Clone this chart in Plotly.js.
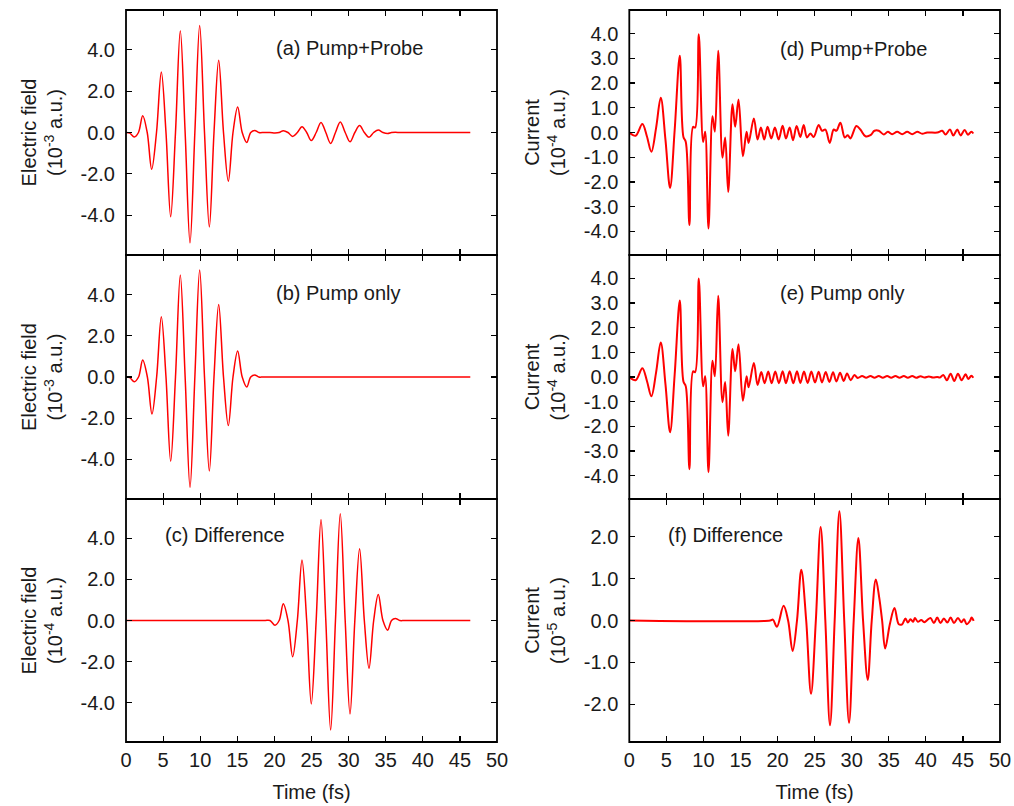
<!DOCTYPE html>
<html>
<head>
<meta charset="utf-8">
<script src="https://cdn.plot.ly/plotly-3.0.1.min.js"></script>
<style>
  html, body { margin: 0; padding: 0; background: #fff; }
  #chart { width: 1014px; height: 806px; }
</style>
</head>
<body>
<div id="chart"></div>
<script>
// ---------- Data ----------
// (a) Pump+Probe electric field, 10^-3 a.u.
const tA = [0, 0.5, 1.12, 1.68, 2.25, 2.86, 3.46, 4.11, 4.76, 5.39, 6.02, 6.67, 7.32, 7.97, 8.63, 9.28, 9.93, 10.58, 11.23, 11.86, 12.49, 13.14, 13.79, 14.42, 15.05, 15.66, 16.27, 16.81, 17.35, 17.9, 18.6, 19.4, 20.08, 20.64, 21.2, 21.83, 22.46, 23.09, 23.72, 24.35, 24.97, 25.63, 26.28, 26.93, 27.58, 28.23, 28.88, 29.54, 30.19, 30.84, 31.48, 32.12, 32.75, 33.38, 34.0, 34.63, 35.26, 35.78, 36.3, 36.9, 37.6, 46.4];
const eA = [0, -0.03, -0.22, 0, 0.81, 0, -1.78, 0, 2.93, 0, -4.08, 0, 4.92, 0, -5.34, 0, 5.18, 0, -4.57, 0, 3.50, 0, -2.36, 0, 1.24, 0, -0.48, 0, 0.10, 0, 0, 0, -0.02, 0, 0.09, 0, -0.19, 0, 0.28, 0, -0.39, 0, 0.49, 0, -0.53, 0, 0.51, 0, -0.45, 0, 0.34, 0, -0.23, 0, 0.12, 0, -0.05, 0, 0.01, 0, 0, 0];

// (b) Pump only electric field, 10^-3 a.u.
const tB = [0, 0.5, 1.13, 1.69, 2.25, 2.88, 3.5, 4.13, 4.76, 5.39, 6.02, 6.67, 7.32, 7.97, 8.63, 9.28, 9.93, 10.58, 11.23, 11.86, 12.49, 13.14, 13.79, 14.42, 15.05, 15.66, 16.27, 16.81, 17.35, 17.9, 18.6, 46.4];
const eB = [0, -0.03, -0.23, 0, 0.83, 0, -1.80, 0, 2.93, 0, -4.10, 0, 4.96, 0, -5.36, 0, 5.20, 0, -4.57, 0, 3.53, 0, -2.36, 0, 1.26, 0, -0.49, 0, 0.10, 0, 0, 0];

// (c) Difference electric field, 10^-4 a.u.
const tC = [0, 18.6, 19.4, 20.08, 20.64, 21.2, 21.83, 22.46, 23.09, 23.72, 24.35, 24.97, 25.63, 26.28, 26.93, 27.58, 28.23, 28.88, 29.54, 30.19, 30.84, 31.48, 32.12, 32.75, 33.38, 34.0, 34.63, 35.26, 35.78, 36.3, 36.9, 37.6, 46.4];
const eC = [0, 0, 0, -0.23, 0, 0.81, 0, -1.76, 0, 2.94, 0, -4.05, 0, 4.91, 0, -5.31, 0, 5.18, 0, -4.54, 0, 3.49, 0, -2.32, 0, 1.26, 0, -0.47, 0, 0.10, 0, 0, 0];

// (d) Pump+Probe current, 10^-4 a.u.
const tD = [0, 0.86, 1.76, 2.37, 2.98, 3.62, 4.24, 4.88, 5.5, 6.12, 6.81, 7.3, 7.62, 8.11, 8.61, 8.88, 9.37, 9.96, 10.23, 10.68, 11.22, 11.54, 11.99, 12.57, 12.93, 13.34, 13.92, 14.28, 14.73, 15.32, 15.82, 16.09, 16.8, 17.3,
  17.75, 18.2, 18.65, 19.15, 19.64, 20.14, 20.68, 21.13, 21.63, 22.08, 22.57, 23.07, 23.52, 23.97, 24.42, 24.87, 25.54, 25.99, 26.45, 27.03, 27.57, 27.93, 28.47, 29.06, 29.46, 29.82, 30.63, 31.17, 31.85, 32.53, 33.07, 33.65, 34.33, 34.87, 35.45, 36.13, 36.81, 37.48, 38.16, 38.83, 39.51, 40.18, 41.54, 42.21, 42.66, 43.25, 43.7, 44.24, 44.69, 45.23, 45.68, 46.13, 46.4];
const jD = [0, -0.13, 0.34, -0.15, -0.78, 0.2, 1.40, -0.3, -2.24, 0.1, 3.10, -0.18, -0.38, -3.74, 0.23, 0.20, 3.97, -0.38, 0.03, -3.88, 0.66, 0.03, 3.30, -1.02, -0.20, -2.40, 1.14, 0.23, 1.33, -0.96, 0.03, -0.42, 0.57, -0.28,
  0.20, -0.28, 0.23, -0.24, 0.20, -0.28, 0.27, -0.24, 0.20, -0.31, 0.26, -0.18, 0.30, -0.20, -0.04, -0.18, 0.30, 0.07, 0.12, -0.42, 0.12, 0.07, 0.39, -0.20, -0.11, -0.24, 0.26, 0.12, -0.15, -0.11, 0.07, 0.07, -0.08, 0.03, -0.07, 0.03, -0.07, 0.03, -0.07, 0.03, -0.05, 0, 0, 0.07, -0.08, 0.12, -0.12, 0.12, -0.12, 0.10, -0.09, 0.03, -0.04];

// (e) Pump only current, 10^-4 a.u.
const tE = [0, 0.86, 1.76, 2.37, 2.98, 3.62, 4.24, 4.88, 5.5, 6.12, 6.81, 7.3, 7.62, 8.11, 8.61, 8.88, 9.37, 9.96, 10.23, 10.68, 11.22, 11.54, 11.99, 12.57, 12.93, 13.34, 13.92, 14.28, 14.73, 15.32, 15.82, 16.09, 16.8, 17.3,
  17.8, 18.25, 18.74, 19.19, 19.69, 20.18, 20.68, 21.13, 21.63, 22.12, 22.62, 23.07, 23.56, 24.06, 24.55, 25.05, 25.54, 25.99, 26.49, 26.99, 27.48, 27.93, 28.43, 28.92, 29.37, 29.87, 30.36, 30.81, 31.4, 31.94, 32.53, 33.07, 33.65, 34.19, 34.78, 35.32, 35.9, 36.45, 37.03, 37.57, 38.16, 38.7, 39.28, 39.82, 40.41, 40.95, 41.54, 41.9, 42.35, 42.84, 43.34, 43.83, 44.33, 44.82, 45.36, 45.72, 46.13, 46.4];
const jE = [0, -0.13, 0.36, -0.15, -0.78, 0.2, 1.40, -0.3, -2.24, 0.1, 3.10, -0.18, -0.38, -3.74, 0.23, 0.20, 4.0, -0.38, 0.03, -3.86, 0.66, 0.03, 3.30, -1.02, -0.20, -2.38, 1.14, 0.23, 1.33, -0.96, 0.03, -0.42, 0.57, -0.32,
  0.20, -0.25, 0.22, -0.25, 0.22, -0.25, 0.23, -0.25, 0.23, -0.25, 0.23, -0.24, 0.22, -0.24, 0.22, -0.22, 0.21, -0.22, 0.20, -0.20, 0.19, -0.18, 0.17, -0.16, 0.14, -0.13, 0.08, -0.04, 0.04, -0.03, 0.04, -0.03, 0.04, -0.03, 0.04, -0.03, 0.04, -0.03, 0.04, -0.03, 0.04, -0.03, 0.03, -0.02, 0.02, -0.02, 0, -0.02, 0.08, -0.13, 0.13, -0.16, 0.13, -0.13, 0.11, -0.08, 0.05, -0.03];

// (f) Difference current, 10^-5 a.u.
const tF = [0, 19.0, 19.37, 19.91, 20.81, 21.42, 22.03, 22.62, 23.2, 23.86, 24.51, 25.16, 25.81, 26.44, 27.07, 27.7, 28.34, 28.99, 29.64, 30.27, 30.9, 31.53, 32.16, 32.7, 33.25, 33.7, 34.1, 34.51, 35.14, 35.77, 36.35, 36.8, 37.25, 37.57, 37.93, 38.29, 38.52, 38.92, 39.37, 39.82, 40.18, 40.63, 41.08, 41.53, 41.98, 42.43, 42.89, 43.34, 43.79, 44.33, 44.78, 45.14, 45.5, 45.95, 46.17, 46.45];
const jF = [0, 0, 0.02, -0.15, 0.35, 0, -0.73, 0, 1.21, 0, -1.75, 0, 2.23, 0, -2.50, 0, 2.61, 0, -2.44, 0, 1.97, 0, -1.42, 0, 0.98, 0.56, 0, -0.67, -0.09, 0.30, -0.09, -0.09, 0.05, -0.05, 0.03, -0.03, 0.06, -0.03, 0.01, -0.04, 0.01, 0.06, -0.06, 0.07, -0.06, 0.05, -0.05, 0.07, -0.06, 0.06, -0.04, 0.03, -0.09, -0.01, 0.07, -0.01];

// Ticks
const xTickVals = [0, 5, 10, 15, 20, 25, 30, 35, 40, 45, 50];
const xTickText = ['0', '5', '10', '15', '20', '25', '30', '35', '40', '45', '50'];
const yFieldVals = [-4, -2, 0, 2, 4];
const yFieldText = ['-4.0', '-2.0', '0.0', '2.0', '4.0'];
const yCurVals = [-4, -3, -2, -1, 0, 1, 2, 3, 4];
const yCurText = ['-4.0', '-3.0', '-2.0', '-1.0', '0.0', '1.0', '2.0', '3.0', '4.0'];
const yDiffVals = [-2, -1, 0, 1, 2];
const yDiffText = ['-2.0', '-1.0', '0.0', '1.0', '2.0'];

// Panel labels
const panelLabels = ['(a) Pump+Probe', '(b) Pump only', '(c) Difference', '(d) Pump+Probe', '(e) Pump only', '(f) Difference'];

// ---------- Layout ----------
const W = 1014, H = 806;
const FONT = 'Liberation Sans, Arial, Helvetica, sans-serif';
const FS = 20;
const TXT = '#1a1a1a';
const leftDom = [126 / W, 497 / W];
const rightDom = [629.3 / W, 1000 / W];
const rowDom = [
  [(H - 255) / H, (H - 10) / H],
  [(H - 499) / H, (H - 255) / H],
  [(H - 742) / H, (H - 499) / H]
];

function xAxis(dom, anchor, bottom) {
  return {
    domain: dom, anchor: anchor, range: [0, 50],
    tickmode: 'array', tickvals: xTickVals, ticktext: xTickText,
    showticklabels: bottom, ticks: 'inside', ticklen: 6, tickwidth: 1.2, tickcolor: '#000',
    showline: false, mirror: 'ticks',
    showgrid: false, zeroline: false, fixedrange: true,
    tickfont: { family: FONT, size: FS, color: TXT },
    ticklabelstandoff: 4,
    title: bottom ? { text: 'Time (fs)', font: { family: FONT, size: FS, color: TXT }, standoff: 14 } : { text: '' }
  };
}
function yAxis(dom, anchor, range, vals, text, title) {
  return {
    domain: dom, anchor: anchor, range: range,
    tickmode: 'array', tickvals: vals, ticktext: text,
    ticks: 'inside', ticklen: 6, tickwidth: 1.2, tickcolor: '#000',
    showline: false, mirror: 'ticks',
    showgrid: false, zeroline: false, fixedrange: true,
    tickfont: { family: FONT, size: FS, color: TXT },
    ticklabelstandoff: 10,
    title: { text: title, font: { family: FONT, size: FS, color: TXT }, standoff: 12 }
  };
}

const titleField3 = 'Electric field<br>(10<sup>-3</sup> a.u.)';
const titleField4 = 'Electric field<br>(10<sup>-4</sup> a.u.)';
const titleCur4 = 'Current<br>(10<sup>-4</sup> a.u.)';
const titleCur5 = 'Current<br>(10<sup>-5</sup> a.u.)';

const panelAxes = [['x', 'y'], ['x2', 'y2'], ['x3', 'y3'], ['x4', 'y4'], ['x5', 'y5'], ['x6', 'y6']];

const layout = {
  width: W, height: H,
  margin: { l: 0, r: 0, t: 0, b: 0 },
  paper_bgcolor: '#fff', plot_bgcolor: '#fff',
  showlegend: false,
  font: { family: FONT, size: FS, color: TXT },
  xaxis: xAxis(leftDom, 'y', false),
  xaxis2: xAxis(leftDom, 'y2', false),
  xaxis3: xAxis(leftDom, 'y3', true),
  xaxis4: xAxis(rightDom, 'y4', false),
  xaxis5: xAxis(rightDom, 'y5', false),
  xaxis6: xAxis(rightDom, 'y6', true),
  yaxis: yAxis(rowDom[0], 'x', [-5.93, 5.93], yFieldVals, yFieldText, titleField3),
  yaxis2: yAxis(rowDom[1], 'x2', [-5.93, 5.93], yFieldVals, yFieldText, titleField3),
  yaxis3: yAxis(rowDom[2], 'x3', [-5.9, 5.9], yFieldVals, yFieldText, titleField4),
  yaxis4: yAxis(rowDom[0], 'x4', [-4.95, 4.95], yCurVals, yCurText, titleCur4),
  yaxis5: yAxis(rowDom[1], 'x5', [-4.95, 4.95], yCurVals, yCurText, titleCur4),
  yaxis6: yAxis(rowDom[2], 'x6', [-2.9, 2.9], yDiffVals, yDiffText, titleCur5),
  shapes: panelAxes.map(p => ({
    type: 'rect', xref: p[0] + ' domain', yref: p[1] + ' domain',
    x0: 0, x1: 1, y0: 0, y1: 1, line: { color: '#000', width: 1.8 }, layer: 'above'
  })),
  annotations: [
    { xref: 'x', yref: 'y', x: 19.9, y: 4.08, text: panelLabels[0] },
    { xref: 'x2', yref: 'y2', x: 19.9, y: 4.06, text: panelLabels[1] },
    { xref: 'x3', yref: 'y3', x: 5.03, y: 4.13, text: panelLabels[2] },
    { xref: 'x4', yref: 'y4', x: 20.05, y: 3.39, text: panelLabels[3] },
    { xref: 'x5', yref: 'y5', x: 20.05, y: 3.39, text: panelLabels[4] },
    { xref: 'x6', yref: 'y6', x: 5.01, y: 2.03, text: panelLabels[5] }
  ].map(a => Object.assign(a, { showarrow: false, xanchor: 'left', yanchor: 'middle', font: { family: FONT, size: 20, color: TXT } }))
};

function trace(x, y, xa, ya, w) {
  return { x: x, y: y, xaxis: xa, yaxis: ya, type: 'scatter', mode: 'lines',
    line: { color: '#ff0000', width: w, shape: 'spline', smoothing: 1 }, hoverinfo: 'skip' };
}

const data = [
  trace(tA, eA, 'x', 'y', 1.5),
  trace(tB, eB, 'x2', 'y2', 1.5),
  trace(tC, eC, 'x3', 'y3', 1.5),
  trace(tD, jD, 'x4', 'y4', 2),
  trace(tE, jE, 'x5', 'y5', 2),
  trace(tF, jF, 'x6', 'y6', 2)
];

Plotly.newPlot('chart', data, layout, { staticPlot: true, displayModeBar: false });
</script>
</body>
</html>
